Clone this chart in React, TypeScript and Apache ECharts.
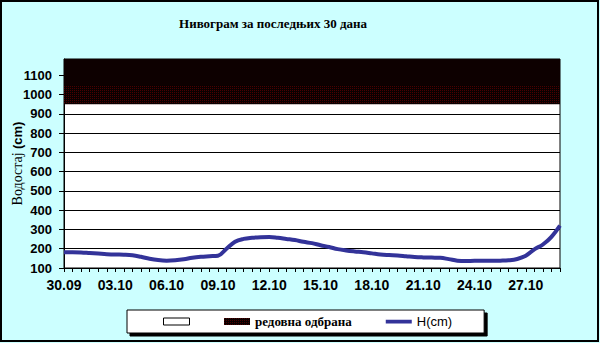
import React, { useEffect, useRef } from 'react';
import * as echarts from 'echarts';

const days = [
  '30.09', '01.10', '02.10', '03.10', '04.10', '05.10', '06.10', '07.10', '08.10', '09.10',
  '10.10', '11.10', '12.10', '13.10', '14.10', '15.10', '16.10', '17.10', '18.10', '19.10',
  '20.10', '21.10', '22.10', '23.10', '24.10', '25.10', '26.10', '27.10', '28.10', '29.10',
];
// half-day readings (00h, 12h)
const categories = days.flatMap((d, i) =>
  i === days.length - 1 ? [`${d} 00h`] : [`${d} 00h`, `${d} 12h`]
);
const levels = [
  182, 182, 181, 178, 175, 172, 170, 169, 166, 158,
  148, 141, 138, 140, 145, 153, 158, 161, 164, 200,
  236, 251, 257, 260, 261, 257, 251, 245, 236, 229,
  218, 209, 198, 191, 186, 182, 176, 170, 167, 165,
  161, 157, 155, 154, 153, 146, 138, 136, 137, 137,
  137, 138, 140, 147, 164, 197, 222, 262, 320,
];
const yTicks = [100, 200, 300, 400, 500, 600, 700, 800, 900, 1000, 1100];
const regularDefense = [950, 1050];
const upperLimit = 1185;

function makePattern(): any {
  const c = document.createElement('canvas');
  c.width = 2;
  c.height = 2;
  const ctx = c.getContext('2d')!;
  ctx.fillStyle = '#0a0000';
  ctx.fillRect(0, 0, 2, 2);
  ctx.fillStyle = '#4a0000';
  ctx.fillRect(0, 0, 1, 1);
  return { image: c, repeat: 'repeat' };
}

export default function App() {
  const ref = useRef<HTMLDivElement>(null);
  useEffect(() => {
    const chart = echarts.init(ref.current!, null, { renderer: 'svg' });
    const pattern = makePattern();
    chart.setOption({
      animation: false,
      backgroundColor: '#CCFFFF',
      graphic: [
        {
          type: 'rect',
          shape: { x: 1, y: 1, width: 597, height: 340 },
          style: { fill: 'none', stroke: '#000', lineWidth: 2 },
          z: 100,
        },
        {
          type: 'text',
          x: 273,
          y: 23,
          style: {
            text: 'Нивограм за последњих 30 дана',
            font: 'bold 13px "Liberation Serif", serif',
            fill: '#000',
            align: 'center',
            verticalAlign: 'middle',
          },
        },
      ],
      grid: {
        left: 64,
        right: 40,
        top: 59,
        bottom: 75,
        outerBoundsMode: 'none',
        containLabel: false,
        show: true,
        backgroundColor: '#fff',
        borderColor: '#000',
        borderWidth: 1,
      },
      legend: {
        left: 127,
        top: 310,
        padding: [5, 32, 5, 36],
        itemGap: 34,
        itemWidth: 26,
        itemHeight: 7,
        backgroundColor: '#fff',
        borderColor: '#000',
        borderWidth: 1,
        borderRadius: 0,
        shadowColor: '#000',
        shadowOffsetX: 3,
        shadowOffsetY: 3,
        shadowBlur: 0,
        formatter: (n: string) =>
          n === '_blank' ? '' : n === 'H(cm)' ? '{a|H(cm)}' : '{s|' + n + '}',
        textStyle: {
          rich: {
            a: { fontFamily: '"Liberation Sans", Arial, sans-serif', fontSize: 13, color: '#000' },
            s: { fontFamily: '"Liberation Serif", serif', fontSize: 13, fontWeight: 'bold', color: '#000' },
          },
        },
        data: [
          { name: '_blank', icon: 'rect', itemStyle: { color: '#fff', borderColor: '#000', borderWidth: 1 } },
          { name: 'редовна одбрана', icon: 'rect', itemStyle: { color: pattern, borderWidth: 0 } },
          {
            name: 'H(cm)',
            icon: 'path://M0,0L0.01,0L0.01,7L0,7Z M0,1.8L26,1.8L26,5.6L0,5.6Z',
            itemStyle: { color: '#333399' },
          },
        ],
      },
      xAxis: {
        type: 'category',
        data: categories,
        boundaryGap: false,
        axisLine: { lineStyle: { color: '#000', width: 1 } },
        axisTick: { interval: 0, length: 4, lineStyle: { color: '#000' } },
        axisLabel: {
          interval: 5,
          formatter: (v: string) => v.split(' ')[0],
          fontFamily: '"Liberation Sans", Arial, sans-serif',
          fontWeight: 'bold',
          fontSize: 14,
          color: '#000',
          margin: 10,
        },
        splitLine: { show: false },
      },
      yAxis: {
        type: 'value',
        min: 100,
        max: upperLimit,
        interval: 100,
        name: '{a|Водостај} {b|(cm)}',
        nameLocation: 'middle',
        nameGap: 40,
        nameRotate: 90,
        nameMoveOverlap: false,
        nameTextStyle: {
          rich: {
            a: { fontFamily: '"Liberation Serif", serif', fontSize: 14, color: '#000' },
            b: { fontFamily: '"Liberation Sans", Arial, sans-serif', fontSize: 13, fontWeight: 'bold', color: '#000' },
          },
        },
        axisLine: { show: true, lineStyle: { color: '#000', width: 1 } },
        axisTick: { show: true, length: 5, lineStyle: { color: '#000' }, customValues: yTicks },
        axisLabel: {
          customValues: yTicks,
          formatter: (v: number) => String(v),
          fontFamily: '"Liberation Sans", Arial, sans-serif',
          fontWeight: 'bold',
          fontSize: 13,
          color: '#000',
          margin: 12,
        },
        splitLine: { show: true, lineStyle: { color: '#000', width: 1 } },
      },
      series: [
        {
          name: '_blank',
          type: 'bar',
          data: [],
          itemStyle: { color: '#fff', borderColor: '#000', borderWidth: 1 },
        },
        {
          name: 'редовна одбрана',
          type: 'line',
          data: categories.map(() => null),
          showSymbol: false,
          itemStyle: { color: pattern },
          lineStyle: { width: 0 },
          z: 1,
          silent: true,
          markArea: {
            silent: true,
            data: [
              [
                { yAxis: regularDefense[0], itemStyle: { color: pattern } },
                { yAxis: regularDefense[1] },
              ],
              [
                { yAxis: regularDefense[1], itemStyle: { color: '#0d0000' } },
                { yAxis: upperLimit },
              ],
            ],
          },
        },
        {
          name: 'H(cm)',
          type: 'line',
          data: levels,
          smooth: 0.4,
          showSymbol: false,
          symbol: 'none',
          z: 5,
          itemStyle: { color: '#333399' },
          lineStyle: { color: '#333399', width: 4 },
        },
      ],
    });
    return () => chart.dispose();
  }, []);
  return (
    <div
      ref={ref}
      style={{ position: 'fixed', left: 0, top: 0, width: 600, height: 343 }}
    />
  );
}
